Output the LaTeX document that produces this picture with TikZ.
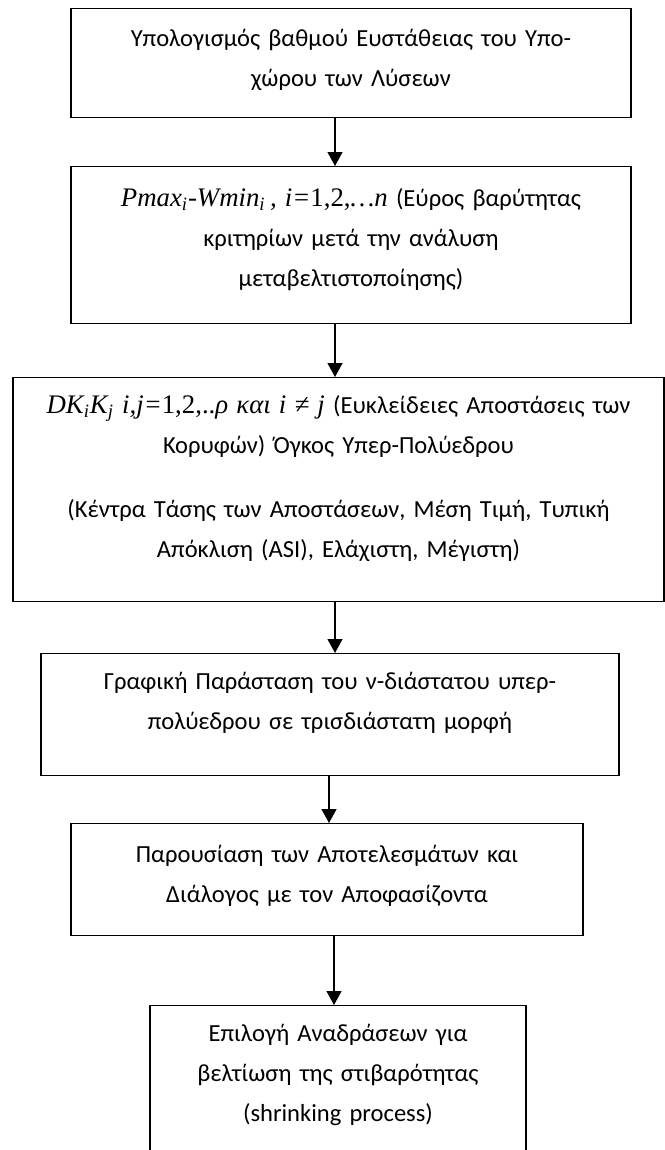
\documentclass[tikz,border=0pt]{standalone}
\usepackage{fontspec}
\setmainfont{Carlito}
\newfontfamily\tms{Liberation Serif}
\usepackage{tikz}
\usetikzlibrary{arrows.meta,positioning}

\newcommand{\mth}[1]{{\tms\itshape\fontsize{14.5pt}{22pt}\selectfont #1}}
\newcommand{\mup}[1]{{\tms\fontsize{14.5pt}{22pt}\selectfont #1}}

\begin{document}
\begin{tikzpicture}[x=0.5414pt,y=-0.5414pt,
  blk/.style={draw,line width=0.7pt,inner sep=0pt,align=center,anchor=north,
    font=\fontsize{13.3pt}{21.7pt}\selectfont},
  arr/.style={-{Triangle[width=8pt,length=7.5pt]},line width=0.8pt}]
\useasboundingbox (0,0) rectangle (665,1150);
\clip (0,0) rectangle (665,1150);

\node[blk,text width=303.2pt,text height=20.6pt,text depth=38.4pt] (ypol) at (351,8)
  {Υπολογισμός βαθμού Ευστάθειας του Υπο-\\χώρου των Λύσεων};
\node[blk,text width=303.2pt,text height=21.7pt,text depth=63.3pt] (pmax) at (351,166)
  {\mth{Pmax\textsubscript{i}-Wmin\textsubscript{i}\,, i=}\mup{1,2,}\mth{…n} (Εύρος βαρύτητας\\κριτηρίων μετά την ανάλυση\\μεταβελτιστοποίησης)};
\node[blk,text width=352.4pt,text height=19.5pt,text depth=101.8pt] (apost) at (338.5,377)
  {\mth{DK\textsubscript{i}K\textsubscript{j} i,j=}\mup{1,2,..}\mth{ρ και i ≠ j} (Ευκλείδειες Αποστάσεις των\\Κορυφών) Όγκος Υπερ-Πολύεδρου\\[12.6pt](Κέντρα Τάσης των Αποστάσεων, Μέση Τιμή, Τυπική\\Απόκλιση (ASI), Ελάχιστη, Μέγιστη)};
\node[blk,text width=312.9pt,text height=19.5pt,text depth=46.6pt] (graf) at (330,653)
  {Γραφική Παράσταση του ν-διάστατου υπερ-\\πολύεδρου σε τρισδιάστατη μορφή};
\node[blk,text width=277.2pt,text height=21.1pt,text depth=39.5pt] (parous) at (327,823)
  {Παρουσίαση των Αποτελεσμάτων και\\Διάλογος με τον Αποφασίζοντα};
\node[blk,text width=203.6pt,text height=19.5pt,text depth=69.8pt] (epil) at (338,1005)
  {Επιλογή Αναδράσεων για\\βελτίωση της στιβαρότητας\\(shrinking process)};

\coordinate (axa) at (335,0);
\coordinate (axb) at (329,0);
\coordinate (axc) at (334,0);
\draw[arr] (ypol.south -| axa) -- (pmax.north -| axa);
\draw[arr] (pmax.south -| axa) -- (apost.north -| axa);
\draw[arr] (apost.south -| axa) -- (graf.north -| axa);
\draw[arr] (graf.south -| axb) -- (parous.north -| axb);
\draw[arr] (parous.south -| axc) -- (epil.north -| axc);
\end{tikzpicture}
\end{document}
